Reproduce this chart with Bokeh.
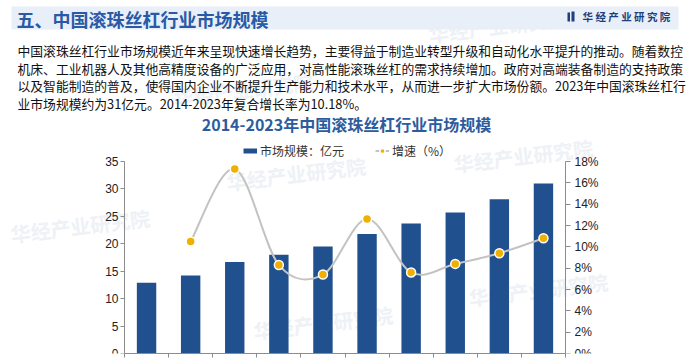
from bokeh.plotting import figure
from bokeh.models import (Range1d, LinearAxis, FixedTicker, PrintfTickFormatter,
                          Legend, LegendItem)
from bokeh.core.properties import value
from bokeh.embed import file_html
from bokeh.resources import INLINE

# ---------------- data ----------------
years = [2014, 2015, 2016, 2017, 2018, 2019, 2020, 2021, 2022, 2023]
market_size = [12.9, 14.2, 16.7, 18.0, 19.5, 21.8, 23.7, 25.7, 28.1, 31.0]   # 亿元
growth_years = [2015, 2016, 2017, 2018, 2019, 2020, 2021, 2022, 2023]
growth_rate = [10.5, 17.3, 8.3, 7.4, 12.6, 7.6, 8.4, 9.4, 10.8]             # %
left_ticks = [0, 5, 10, 15, 20, 25, 30, 35]
right_ticks = [0, 2, 4, 6, 8, 10, 12, 14, 16, 18]

heading = "五、中国滚珠丝杠行业市场规模"
brand = "华 经 产 业 研 究 院"
watermark = "华经产业研究院"
paragraph = [
    "中国滚珠丝杠行业市场规模近年来呈现快速增长趋势，主要得益于制造业转型升级和自动化水平提升的推动。随着数控",
    "机床、工业机器人及其他高精度设备的广泛应用，对高性能滚珠丝杠的需求持续增加。政府对高端装备制造的支持政策",
    "以及智能制造的普及，使得国内企业不断提升生产能力和技术水平，从而进一步扩大市场份额。2023年中国滚珠丝杠行",
    "业市场规模约为31亿元。2014-2023年复合增长率为10.18%。",
]
chart_title = "2014-2023年中国滚珠丝杠行业市场规模"
legend_labels = ["市场规模：亿元", "增速（%）"]

BAR = "#21508F"
LINE = "#C3C3C3"
DOT = "#F0B000"
AXIS = "#8C8C8C"
CJK = "Noto Sans CJK SC"
NAN = float("nan")

# ---------------- layout (pixels) ----------------
W, H = 690, 360
FRAME_BOTTOM = 353           # frame covers page y 0..353 and x 0..690
PLOT_L, PLOT_R, PLOT_T = 124, 565, 161   # chart area inside the frame

n_cat = len(years)
px_per_year = (PLOT_R - PLOT_L) / n_cat
x_lo = years[0] - 0.5
x_hi = years[-1] + 0.5
x_start = x_lo - PLOT_L / px_per_year
x_end = x_hi + (W - PLOT_R) / px_per_year
y_max = left_ticks[-1]
pct_max = right_ticks[-1]
stretch = FRAME_BOTTOM / (FRAME_BOTTOM - PLOT_T)

p = figure(width=W, height=H,
           x_range=Range1d(x_start, x_end), y_range=Range1d(0, y_max * stretch),
           output_backend="svg", toolbar_location=None,
           min_border_left=0, min_border_right=0, min_border_top=0,
           min_border_bottom=H - FRAME_BOTTOM)
p.extra_y_ranges = {"pct": Range1d(0, pct_max * stretch),
                    "page": Range1d(FRAME_BOTTOM, 0)}
p.extra_x_ranges = {"page": Range1d(0, W)}
p.grid.visible = False
p.outline_line_color = None
p.background_fill_color = "white"
p.border_fill_color = "white"

pg = dict(x_range_name="page", y_range_name="page")

# faint watermarks (behind everything)
p.text(x=[430, 175, 228, 455, 255, 470, 12], y=[48, 112, 196, 178, 345, 312, 248],
       text=[watermark] * 7, angle=0.12, text_font=value(CJK), text_font_size=value("20px"),
       text_font_style="bold", text_color="#EEF1F5", text_baseline="bottom", **pg)

# ---------------- page texts ----------------
p.quad(left=[11], right=[678], top=[6], bottom=[29], fill_color="#E8EFF8", line_color=None, **pg)
p.text(x=[16], y=[18], text=[heading], text_font=value(CJK), text_font_size=value("18px"),
       text_font_style="bold", text_color="#2A5AA5", text_baseline="middle", **pg)
p.quad(left=[567, 571], right=[569.5, 574], top=[12, 11], bottom=[21, 21],
       fill_color="#1F3F7A", line_color=None, **pg)
p.text(x=[582], y=[16], text=[brand], text_font=value(CJK), text_font_size=value("10.5px"),
       text_font_style="bold", text_color="#1F3F7A", text_baseline="middle", **pg)
p.text(x=[17] * len(paragraph), y=[50 + i * 17.7 for i in range(len(paragraph))], text=paragraph,
       text_font=value(CJK), text_font_size=value("12.8px"), text_color="#111111",
       text_baseline="middle", **pg)
p.text(x=[346], y=[123], text=[chart_title], text_font=value(CJK), text_font_size=value("16px"),
       text_font_style="bold", text_color="#2C5C9E", text_baseline="middle", text_align="center",
       **pg)

# ---------------- chart ----------------
p.vbar(x=years, top=market_size, width=0.44, fill_color=BAR, line_color=None)

# smooth growth line (Catmull-Rom drawn as cubic Bezier segments through the data points)
n = len(growth_years)
x0s, y0s, x1s, y1s, cx0s, cy0s, cx1s, cy1s = [], [], [], [], [], [], [], []
for i in range(n - 1):
    ia, ib, ic, idd = max(i - 1, 0), i, i + 1, min(i + 2, n - 1)
    xa, ya = growth_years[ia], growth_rate[ia]
    xb, yb = growth_years[ib], growth_rate[ib]
    xc, yc = growth_years[ic], growth_rate[ic]
    xd, yd = growth_years[idd], growth_rate[idd]
    x0s.append(xb); y0s.append(yb); x1s.append(xc); y1s.append(yc)
    cx0s.append(xb + (xc - xa) / 6); cy0s.append(yb + (yc - ya) / 6)
    cx1s.append(xc - (xd - xb) / 6); cy1s.append(yc - (yd - yb) / 6)
p.bezier(x0=x0s, y0=y0s, x1=x1s, y1=y1s, cx0=cx0s, cy0=cy0s, cx1=cx1s, cy1=cy1s,
         line_color=LINE, line_width=2, y_range_name="pct")
dots = p.scatter(x=growth_years, y=growth_rate, size=9, fill_color=DOT, line_color="white",
                 line_width=1.5, y_range_name="pct")

# legend swatches (one undrawn NaN point each, only used for the legend glyph)
bar_proxy = p.line(x=[NAN], y=[NAN], line_color=BAR, line_width=5)
line_proxy = p.line(x=[NAN], y=[NAN], line_color=LINE, line_width=2, y_range_name="pct")

# axes
xticks = [y - 0.5 for y in years] + [years[-1] + 0.5]
xa = p.xaxis[0]
xa.ticker = FixedTicker(ticks=xticks)
xa.bounds = (x_lo, x_hi)
xa.major_label_overrides = {v: "" for v in xticks}
xa.major_label_text_font_size = "1px"
xa.major_label_standoff = 0
xa.axis_line_color = AXIS
xa.major_tick_line_color = AXIS
xa.major_tick_out = 4
xa.major_tick_in = 0
xa.minor_tick_line_color = None

ly = p.yaxis[0]
ly.fixed_location = x_lo
ly.ticker = FixedTicker(ticks=left_ticks)
ly.bounds = (0, y_max)
ly.axis_line_color = AXIS
ly.major_tick_line_color = AXIS
ly.major_tick_out = 4
ly.major_tick_in = 0
ly.minor_tick_line_color = None
ly.major_label_text_font = "Liberation Sans"
ly.major_label_text_font_size = "12px"
ly.major_label_text_color = "#222222"
ly.major_label_standoff = 2

ra = LinearAxis(y_range_name="pct", ticker=FixedTicker(ticks=right_ticks),
                formatter=PrintfTickFormatter(format="%d%%"), bounds=(0, pct_max),
                fixed_location=x_hi)
ra.axis_line_color = AXIS
ra.major_tick_line_color = AXIS
ra.major_tick_out = 5
ra.major_tick_in = 0
ra.minor_tick_line_color = None
ra.major_label_text_font = "Liberation Sans"
ra.major_label_text_font_size = "12px"
ra.major_label_text_color = "#222222"
ra.major_label_standoff = 4
p.add_layout(ra, "right")

legend = Legend(items=[LegendItem(label=legend_labels[0], renderers=[bar_proxy]),
                       LegendItem(label=legend_labels[1], renderers=[line_proxy, dots])],
                orientation="horizontal", location=(243, FRAME_BOTTOM - 159),
                label_text_font=CJK, label_text_font_size="12px", label_text_color="#333333",
                glyph_width=14, glyph_height=13, label_height=13, label_standoff=3,
                spacing=31, padding=0, margin=0, border_line_color=None,
                background_fill_alpha=0)
p.add_layout(legend)

with open("out.html", "w") as f:
    f.write(file_html(p, INLINE))
